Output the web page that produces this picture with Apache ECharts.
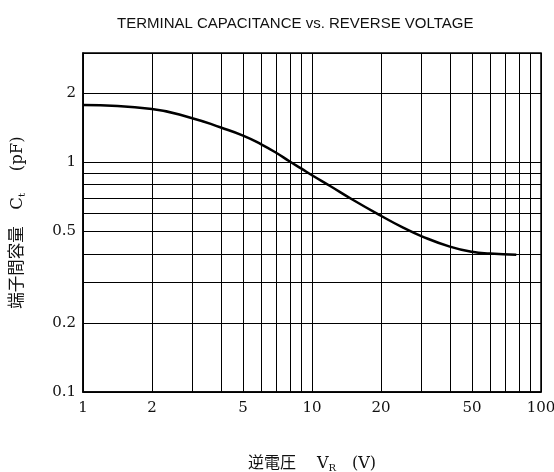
<!DOCTYPE html>
<html><head><meta charset="utf-8">
<script src="https://cdn.jsdelivr.net/npm/echarts@6/dist/echarts.min.js"></script>
<style>html,body{margin:0;padding:0;background:#fff}#c{width:554px;height:472px}</style>
</head><body><div id="c"></div>
<script>
const voltage = [1, 2, 3, 4, 5, 6, 7, 8, 9, 10, 12, 15, 20, 25, 30, 40, 50, 60, 78];
const capacitance = [1.78, 1.71, 1.56, 1.42, 1.31, 1.20, 1.10, 1.01, 0.94, 0.88, 0.79, 0.69, 0.586, 0.52, 0.478, 0.43, 0.408, 0.401, 0.396];
const xGridValues = [1, 2, 3, 4, 5, 6, 7, 8, 9, 10, 20, 30, 40, 50, 60, 70, 80, 90, 100];
const xLabelValues = [1, 2, 5, 10, 20, 50, 100];
const yGridValues = [0.1, 0.2, 0.3, 0.4, 0.5, 0.6, 0.7, 0.8, 0.9, 1, 2, 3];
const yLabelValues = [0.1, 0.2, 0.5, 1, 2];

const chart = echarts.init(document.getElementById('c'), null, {renderer: 'canvas'});
const serif = 'DejaVu Serif';
const nameFont = serif + ', Noto Sans CJK JP';
chart.setOption({
  animation: false,
  backgroundColor: '#fff',
  title: {
    text: 'TERMINAL CAPACITANCE vs. REVERSE VOLTAGE',
    left: 112, top: 11,
    textStyle: {fontFamily: 'Liberation Sans', fontSize: 15, fontWeight: 'normal', color: '#111'}
  },
  grid: {left: 83, right: 13, top: 53, bottom: 80, show: true, borderColor: '#000', borderWidth: 1.5, outerBoundsMode: 'none', containLabel: false},
  xAxis: {
    type: 'log', logBase: 10, min: 1, max: 100,
    name: '逆電圧　 V{sub|R}　(V)', nameLocation: 'middle', nameGap: 62,
    nameTextStyle: {fontFamily: nameFont, fontSize: 16, color: '#111',
      rich: {sub: {fontFamily: serif, fontSize: 10, verticalAlign: 'bottom', padding: [9, 0, 0, 0], color: '#111'}}},
    axisLine: {show: true, lineStyle: {color: '#000', width: 1.5}},
    axisTick: {show: false, customValues: xGridValues},
    axisLabel: {customValues: xLabelValues, fontFamily: serif, fontSize: 15, color: '#111', margin: 9},
    splitLine: {show: true, lineStyle: {color: '#000', width: 1}}
  },
  yAxis: {
    type: 'log', logBase: 10, min: 0.1, max: 3,
    name: '端子間容量　C{sub|t}　 (pF)', nameLocation: 'middle', nameGap: 56, nameRotate: 90,
    nameTextStyle: {fontFamily: nameFont, fontSize: 16.5, color: '#111',
      rich: {sub: {fontFamily: serif, fontSize: 10, verticalAlign: 'bottom', padding: [9, 0, 0, 0], color: '#111'}}},
    axisLine: {show: true, lineStyle: {color: '#000', width: 1.5}},
    axisTick: {show: false, customValues: yGridValues},
    axisLabel: {customValues: yLabelValues, fontFamily: serif, fontSize: 15, color: '#111', margin: 7},
    splitLine: {show: true, lineStyle: {color: '#000', width: 1}}
  },
  series: [{
    type: 'line',
    data: voltage.map((v, i) => [v, capacitance[i]]),
    smooth: 0.5,
    symbol: 'none',
    lineStyle: {color: '#000', width: 2.5}
  }]
});
</script></body></html>
